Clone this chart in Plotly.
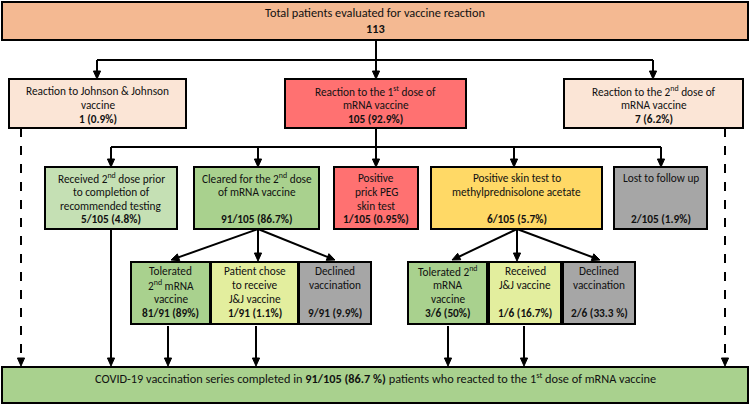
import math
import plotly.graph_objects as go

# ---- data: box title lines and counts ----
box_titles = [
    ["Total patients evaluated for vaccine reaction"],
    ["Reaction to Johnson & Johnson", "vaccine"],
    ["Reaction to the 1<sup>st</sup> dose of", "mRNA vaccine"],
    ["Reaction to the 2<sup>nd</sup> dose of", "mRNA vaccine"],
    ["Received 2<sup>nd</sup> dose prior", "to completion of", "recommended testing"],
    ["Cleared for the 2<sup>nd</sup> dose", "of mRNA vaccine"],
    ["Positive", "prick PEG", "skin test"],
    ["Positive skin test to", "methylprednisolone acetate"],
    ["Lost to follow up"],
    ["Tolerated", "2<sup>nd</sup> mRNA", "vaccine"],
    ["Patient chose", "to receive", "J&J vaccine"],
    ["Declined", "vaccination"],
    ["Tolerated 2<sup>nd</sup>", "mRNA", "vaccine"],
    ["Received", "J&J vaccine"],
    ["Declined", "vaccination"],
    ["COVID-19 vaccination series completed in <b>91/105 (86.7 %)</b> patients who reacted to the 1<sup>st</sup> dose of mRNA vaccine"],
]
box_counts = [
    "113", "1 (0.9%)", "105 (92.9%)", "7 (6.2%)",
    "5/105 (4.8%)", "91/105 (86.7%)", "1/105 (0.95%)", "6/105 (5.7%)", "2/105 (1.9%)",
    "81/91 (89%)", "1/91 (1.1%)", "9/91 (9.9%)", "3/6 (50%)", "1/6 (16.7%)", "2/6 (33.3 %)",
    "",
]

# ---- layout: box geometry (x0, y0, x1, y1) in pixel space, text rows, fills ----
box_geom = [
    (2, 2, 748, 40),
    (9, 79, 186, 128),
    (285, 79, 466, 128),
    (564, 79, 743, 128),
    (45, 167, 177, 229),
    (194, 167, 319, 229),
    (334, 167, 418, 229),
    (431, 167, 602, 229),
    (614, 167, 707, 229),
    (131, 262, 210, 324),
    (211, 262, 298, 324),
    (299, 262, 371, 324),
    (408, 262, 487, 324),
    (489, 262, 561, 324),
    (563, 262, 635, 324),
    (2, 367, 748, 403),
]
first_line_mid = [12, 90.5, 90.5, 90.5, 177.5, 177.5, 177.5, 177.5, 177.5,
                  271, 271, 271, 271, 271, 271, 378]
count_mid = [28, 119, 119, 119, 219, 219, 219, 219, 219, 313, 313, 313, 313, 313, 313, 0]
font_size = [12.3] + [11.3] * 14 + [12.3]
LINE_STEP = 14
box_fill = [
    "#F4B992", "#FBE5D6", "#FF7171", "#FBE5D6",
    "#C5E0B4", "#A9D18E", "#FF7171", "#FFD966", "#A6A6A6",
    "#A9D18E", "#E3EE9E", "#A6A6A6", "#A9D18E", "#E3EE9E", "#A6A6A6",
    "#A9D18E",
]

# plain connector lines (x0, y0, x1, y1)
plain_lines = [
    (376, 40, 376, 60), (97, 60, 653, 60),
    (376, 128, 376, 147), (111, 147, 661, 147),
]
# arrows (tail x, tail y, head x, head y)
arrows = [
    (97, 60, 97, 79), (376, 60, 376, 79), (653, 60, 653, 79),
    (111, 147, 111, 167), (258, 147, 258, 167), (376, 147, 376, 167),
    (514, 147, 514, 167), (661, 147, 661, 167),
    (258, 229, 171, 260), (258, 229, 258, 261), (258, 229, 335, 260),
    (517, 229, 452, 260), (517, 229, 517, 261), (517, 229, 600, 260),
    (111, 229, 111, 366),
    (168, 326, 168, 366), (256, 326, 256, 366),
    (448, 326, 448, 366), (524, 326, 524, 366),
]
dashed_arrows = [(21, 128, 21, 366), (725, 128, 725, 366)]

FONT = "Carlito, Lato, 'Open Sans', sans-serif"
HEAD_LEN, HEAD_HALF = 8, 3.6

fig = go.Figure()
shapes = []
annotations = []

for (x0, y0, x1, y1), fill in zip(box_geom, box_fill):
    shapes.append(dict(type="rect", x0=x0, y0=y0, x1=x1, y1=y1, xref="x", yref="y",
                       fillcolor=fill, line=dict(color="black", width=2), layer="below"))

for (x0, y0, x1, y1) in plain_lines:
    shapes.append(dict(type="line", x0=x0, y0=y0, x1=x1, y1=y1, xref="x", yref="y",
                       line=dict(color="black", width=2)))


def add_arrow(tx, ty, hx, hy, dash="solid"):
    dx, dy = hx - tx, hy - ty
    L = math.hypot(dx, dy)
    ux, uy = dx / L, dy / L
    bx, by = hx - ux * HEAD_LEN, hy - uy * HEAD_LEN
    shapes.append(dict(type="line", x0=tx, y0=ty, x1=bx + ux, y1=by + uy, xref="x", yref="y",
                       line=dict(color="black", width=2, dash=dash)))
    px, py = -uy, ux
    p1 = (bx + px * HEAD_HALF, by + py * HEAD_HALF)
    p2 = (bx - px * HEAD_HALF, by - py * HEAD_HALF)
    path = f"M {hx},{hy} L {p1[0]:.2f},{p1[1]:.2f} L {p2[0]:.2f},{p2[1]:.2f} Z"
    shapes.append(dict(type="path", path=path, xref="x", yref="y",
                       fillcolor="black", line=dict(color="black", width=1)))


for a in arrows:
    add_arrow(*a)
for a in dashed_arrows:
    add_arrow(*a, dash="dash")

for (x0, y0, x1, y1), lines, count, first, mid, fs in zip(box_geom, box_titles, box_counts,
                                                           first_line_mid, count_mid, font_size):
    cx = (x0 + x1) / 2
    for i, line in enumerate(lines):
        annotations.append(dict(x=cx, y=first + i * LINE_STEP, xref="x", yref="y", text=line,
                                showarrow=False, xanchor="center", yanchor="middle",
                                font=dict(family=FONT, size=fs, color="#111111")))
    if count:
        annotations.append(dict(x=cx, y=mid, xref="x", yref="y", text=f"<b>{count}</b>",
                                showarrow=False, xanchor="center", yanchor="middle",
                                font=dict(family=FONT, size=fs, color="#111111")))

fig.update_layout(
    width=752, height=405, margin=dict(l=0, r=0, t=0, b=0),
    plot_bgcolor="white", paper_bgcolor="white",
    xaxis=dict(range=[0, 752], visible=False, fixedrange=True),
    yaxis=dict(range=[405, 0], visible=False, fixedrange=True),
    shapes=shapes, annotations=annotations, showlegend=False,
)
fig.write_html("out.html", config={"displayModeBar": False},
               post_script="document.body.style.margin='0';document.body.style.overflow='hidden';")
